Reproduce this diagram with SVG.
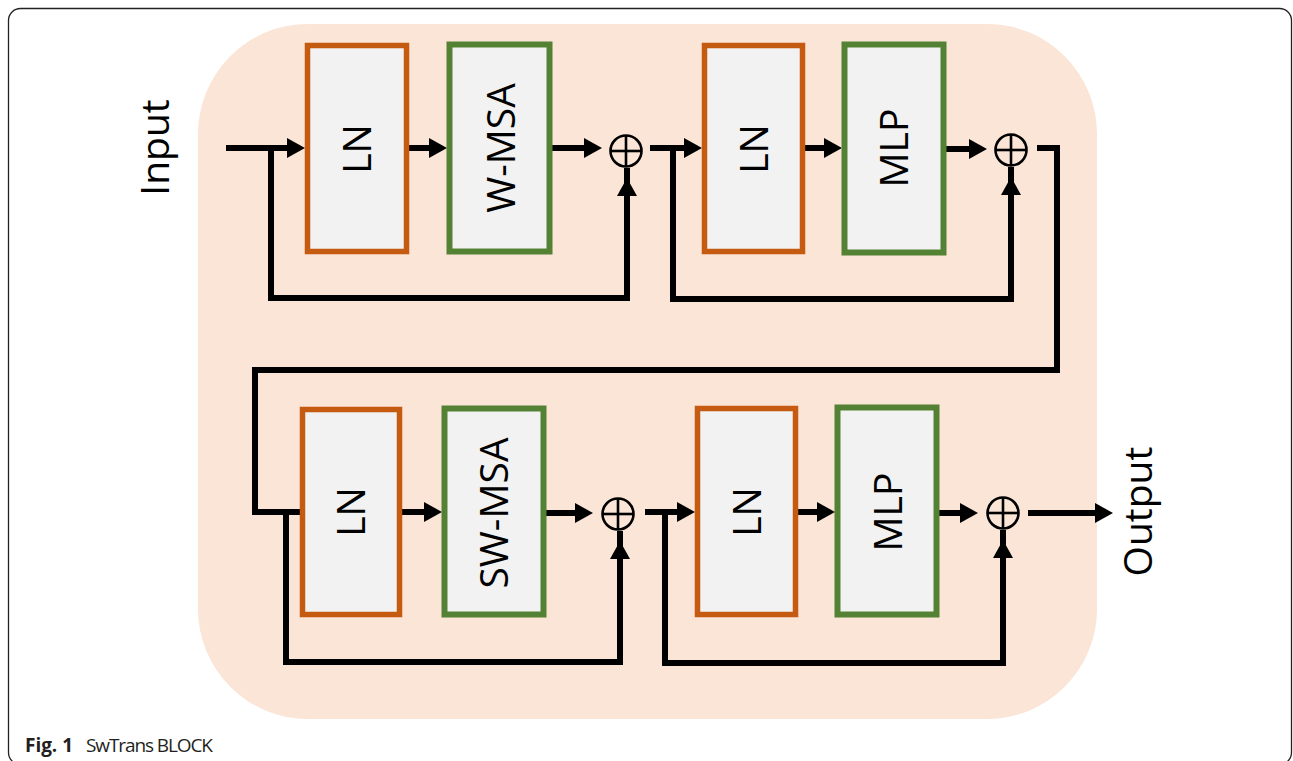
<svg xmlns="http://www.w3.org/2000/svg" width="1293" height="761" viewBox="0 0 1293 761">
<style>
.ln{fill:#f2f2f2;stroke:#c55a11;stroke-width:5.5}
.gr{fill:#f2f2f2;stroke:#548235;stroke-width:6}
.lbl{font-family:"Open Sans","Liberation Sans",sans-serif;font-size:39px;fill:#000;text-anchor:middle}
.op{fill:none;stroke:#000;stroke-width:2.6}
.wire{fill:none;stroke:#000;stroke-width:6;stroke-linejoin:miter;stroke-linecap:butt}
.arr{fill:none;stroke:#000;stroke-width:6;marker-end:url(#ah)}
.cap{font-family:"Open Sans","Liberation Sans",sans-serif;font-size:19px;fill:#231f20}
</style>
<defs>
<marker id="ah" viewBox="0 0 18 20" refX="6" refY="10" markerWidth="18" markerHeight="20" markerUnits="userSpaceOnUse" orient="auto">
<path d="M0,0 L18,10 L0,20 Z" fill="#000"/>
</marker>
<g id="plus">
<circle class="op" cx="0" cy="0" r="15.5"/>
<line class="op" x1="-15.5" y1="0" x2="15.5" y2="0"/>
<line class="op" x1="0" y1="-15.5" x2="0" y2="15.5"/>
</g>
</defs>
<rect x="0" y="0" width="1293" height="761" fill="#fff"/>
<rect x="8.5" y="8.5" width="1283" height="756" rx="12" fill="#fff" stroke="#222" stroke-width="1.3"/>
<rect x="198" y="24" width="899" height="695" rx="110" fill="#fbe5d6"/>

<g id="connectors">
<line class="arr" x1="226" y1="148" x2="293" y2="148"/>
<path class="wire" d="M271,148 V298 H627 V168"/>
<line class="arr" x1="409" y1="148" x2="435" y2="148"/>
<line class="arr" x1="552" y1="148" x2="590" y2="148"/>
<line class="arr" x1="650" y1="148" x2="690" y2="148"/>
<path class="wire" d="M673,148 V299 H1011 V167"/>
<line class="arr" x1="805" y1="148" x2="830" y2="148"/>
<line class="arr" x1="946" y1="149" x2="975" y2="149"/>
<path class="wire" d="M1037,148 H1057 V370 H255 V512 H300"/>
<path class="wire" d="M286,512 V662 H620 V531"/>
<line class="arr" x1="402" y1="512" x2="430" y2="512"/>
<line class="arr" x1="546" y1="513" x2="581" y2="513"/>
<line class="arr" x1="645" y1="512" x2="683" y2="512"/>
<path class="wire" d="M665,512 V663 H1003 V530"/>
<line class="arr" x1="798" y1="512" x2="823" y2="512"/>
<line class="arr" x1="939" y1="513" x2="966" y2="513"/>
<line class="arr" x1="1028" y1="513" x2="1101" y2="513"/>
<line class="arr" x1="627" y1="200" x2="627" y2="190"/>
<line class="arr" x1="1011" y1="200" x2="1011" y2="189"/>
<line class="arr" x1="620" y1="560" x2="620" y2="553"/>
<line class="arr" x1="1003" y1="560" x2="1003" y2="552"/>
</g>

<g id="ln1"><rect class="ln" x="307.5" y="45.5" width="99" height="206"/><text class="lbl" transform="translate(357,149) rotate(-90)" y="14">LN</text></g>
<g id="wmsa"><rect class="gr" x="449.5" y="44.5" width="100" height="207"/><text class="lbl" transform="translate(501,148) rotate(-90)" y="14">W-MSA</text></g>
<g id="ln2"><rect class="ln" x="704.5" y="45.5" width="98" height="206"/><text class="lbl" transform="translate(754,149) rotate(-90)" y="14">LN</text></g>
<g id="mlp1"><rect class="gr" x="844.5" y="44.5" width="99" height="208"/><text class="lbl" transform="translate(894,148) rotate(-90)" y="14">MLP</text></g>
<g id="ln3"><rect class="ln" x="302.5" y="409.5" width="97" height="205"/><text class="lbl" transform="translate(351,512) rotate(-90)" y="14">LN</text></g>
<g id="swmsa"><rect class="gr" x="444.5" y="408.5" width="99" height="206"/><text class="lbl" transform="translate(494,513) rotate(-90)" y="14">SW-MSA</text></g>
<g id="ln4"><rect class="ln" x="697.5" y="408.5" width="98" height="206"/><text class="lbl" transform="translate(746.5,512) rotate(-90)" y="14">LN</text></g>
<g id="mlp2"><rect class="gr" x="837.5" y="407.5" width="99" height="207"/><text class="lbl" transform="translate(888,512) rotate(-90)" y="14">MLP</text></g>

<g id="add1"><use href="#plus" x="626" y="151"/></g>
<g id="add2"><use href="#plus" x="1011" y="150"/></g>
<g id="add3"><use href="#plus" x="618" y="514"/></g>
<g id="add4"><use href="#plus" x="1003" y="513"/></g>

<g id="input"><text class="lbl" transform="translate(154.5,147.5) rotate(-90)" y="14">Input</text></g>
<g id="output"><text class="lbl" transform="translate(1138,511.5) rotate(-90)" y="14">Output</text></g>

<g id="caption">
<text class="cap" x="25" y="752" font-weight="bold" textLength="48">Fig. 1</text>
<text class="cap" x="86" y="752" textLength="127">SwTrans BLOCK</text>
</g>
</svg>
